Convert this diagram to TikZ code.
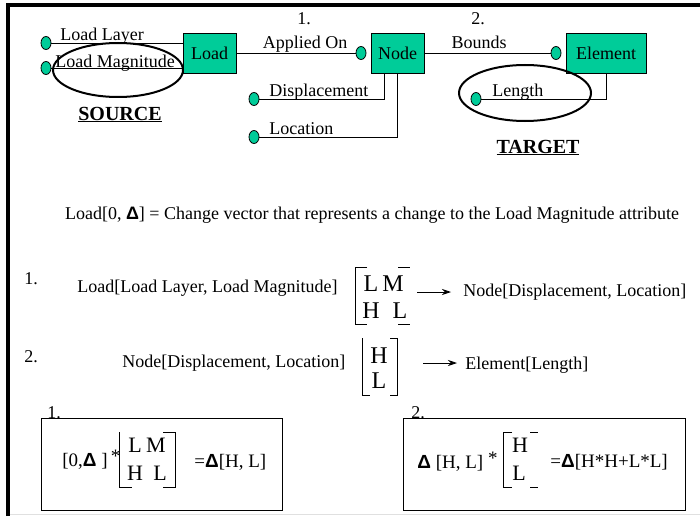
\documentclass[tikz,border=0pt]{standalone}
\usepackage{fontspec}
\setmainfont{Liberation Serif}
\newfontfamily\deltafont{Liberation Sans}
\usetikzlibrary{arrows.meta,shapes.geometric}
\definecolor{entityfill}{HTML}{00CC99}
\newcommand{\Dlt}{{\deltafont\bfseries Δ}}
\tikzset{
  entity/.style={draw, fill=entityfill, minimum height=40pt, inner sep=0pt, font=\fontsize{18}{20}\selectfont},
  attr dot/.style={ellipse, draw, fill=entityfill, minimum width=10pt, minimum height=13pt, inner sep=0pt},
  label text/.style={font=\fontsize{18}{20}\selectfont, inner sep=0pt},
  big text/.style={font=\fontsize{20}{22}\selectfont, inner sep=0pt},
  matrix entry/.style={font=\fontsize{24}{26}\selectfont, inner sep=0pt, text height=16pt, text depth=0pt},
  box entry/.style={font=\fontsize{19}{21}\selectfont, inner sep=0pt},
  box matrix entry/.style={font=\fontsize{22}{24}\selectfont, inner sep=0pt, text height=14.5pt, text depth=0pt},
  map arrow/.style={-{Stealth[length=9pt, width=6pt]}},
  ring/.style={line width=2pt},
  formula box/.style={draw},
}

\begin{document}
\begin{tikzpicture}[x=1pt, y=-1pt, line width=0.8pt]
  \useasboundingbox (0,0) rectangle (700,516);

  % Frame
  \draw[line width=4pt] (8,516) -- (8,5) -- (700,5);
  \draw[black!12] (10,514) -- (700,514);

  % Entities
  \node[entity, minimum width=53pt] (loadbox) at (209.5,53) {Load};
  \node[entity, minimum width=53pt] (nodebox) at (397.5,53) {Node};
  \node[entity, minimum width=80pt] (elembox) at (606,53) {Element};

  % Attribute dots
  \node[attr dot] (layerdot) at (46,43) {};
  \node[attr dot] (magdot) at (46,68) {};
  \node[attr dot] (appliedend) at (361,53) {};
  \node[attr dot] (dispdot) at (254,99) {};
  \node[attr dot] (locdot) at (254,137) {};
  \node[attr dot] (boundsend) at (556,53) {};
  \node[attr dot] (lendot) at (476,99) {};

  % Relations
  \draw (loadbox) -- (appliedend);
  \draw (nodebox) -- (boundsend);

  % Attribute links
  \coordinate (dispjoin) at (384,73);
  \draw (layerdot) -- (layerdot -| loadbox.west);
  \draw (magdot) -- (magdot -| loadbox.west);
  \draw (dispdot) -| (dispjoin);
  \draw (locdot) -| (nodebox.south);
  \draw (lendot) -| (elembox.south);

  % Labels
  \node[label text, anchor=base west] (layerlbl) at (60,41) {Load Layer};
  \node[label text, anchor=base west] (maglbl) at (55,68) {Load Magnitude};
  \node[label text, anchor=base] (appliedlbl) at (305,49) {Applied On};
  \node[label text, anchor=base] (rel1) at (304,25) {1.};
  \node[label text, anchor=base] (boundslbl) at (479,49) {Bounds};
  \node[label text, anchor=base] (rel2) at (478,25) {2.};
  \node[label text, anchor=base west] (displbl) at (269,96) {Displacement};
  \node[label text, anchor=base west] (loclbl) at (269,134) {Location};
  \node[label text, anchor=base west] (lenlbl) at (492,96) {Length};

  % Rings
  \draw[ring] (118,70) ellipse [x radius=65pt, y radius=27pt];
  \draw[ring] (525,93) ellipse [x radius=66pt, y radius=28pt];
  \node[big text, anchor=base] (source) at (120,120) {\underline{\textbf{SOURCE}}};
  \node[big text, anchor=base] (target) at (538,153) {\underline{\textbf{TARGET}}};

  % Change vector
  \node[label text] (changevec) at (372,215) {Load[0, \Dlt] = Change vector that represents a change to the Load Magnitude attribute};

  % Mapping 1
  \node[label text] (step1) at (31,279) {1.};
  \node[label text, anchor=west] (map1src) at (77,288) {Load[Load Layer, Load Magnitude]};
  \node[matrix entry] (m1a) at (371,283) {L};
  \node[matrix entry] (m1b) at (393,283) {M};
  \node[matrix entry] (m1c) at (371,310) {H};
  \node[matrix entry] (m1d) at (400,310) {L};
  \draw (367,267) -- (355,267) -- (355,324) -- (367,324);
  \draw (398,267) -- (410,267) (398,324) -- (410,324);
  \coordinate (arr1) at (417,292);
  \node[label text, anchor=west] (map1dst) at (463,292) {Node[Displacement, Location]};
  \draw[map arrow, shorten >=12pt] (arr1) -- (map1dst.west);

  % Mapping 2
  \node[label text] (step2) at (31,357) {2.};
  \node[label text, anchor=west] (map2src) at (122,363) {Node[Displacement, Location]};
  \node[matrix entry] (m2a) at (379,355) {H};
  \node[matrix entry] (m2b) at (379,380) {L};
  \draw (362,338) -- (362,395) -- (370,395);
  \draw (390,338) -- (397,338) -- (397,395) -- (390,395);
  \coordinate (arr2) at (423,363);
  \node[label text, anchor=west] (map2dst) at (465,365) {Element[Length]};
  \draw[map arrow, shorten >=8pt] (arr2) -- (map2dst.west |- arr2);

  % Product 1
  \node[formula box, minimum width=241pt, minimum height=92pt] (prod1) at (161.5,464) {};
  \node[label text, anchor=base] (prod1lbl) at (54,418) {1.};
  \node[box entry, anchor=west] (prod1lhs) at (62,460) {[0,\Dlt\ ]\,\raisebox{4pt}{*}};
  \node[box matrix entry] (p1a) at (135,445) {L};
  \node[box matrix entry] (p1b) at (156,445) {M};
  \node[box matrix entry] (p1c) at (135,473) {H};
  \node[box matrix entry] (p1d) at (160,473) {L};
  \draw (119,432) -- (119,487) -- (132,487);
  \draw (163,432) -- (175,432) -- (175,487) -- (163,487);
  \node[box entry, anchor=west] (prod1rhs) at (194,462) {=\Dlt[H, L]};

  % Product 2
  \node[formula box, minimum width=282pt, minimum height=92pt] (prod2) at (544,464) {};
  \node[label text, anchor=base] (prod2lbl) at (418,418) {2.};
  \node[box entry, anchor=west] (prod2lhs) at (417,462) {\Dlt\ [H, L] \raisebox{4pt}{*}};
  \node[box matrix entry] (p2a) at (520,445) {H};
  \node[box matrix entry] (p2b) at (519,473) {L};
  \draw (512,432) -- (503,432) -- (503,487) -- (512,487);
  \draw (530,432) -- (538,432) (530,487) -- (538,487);
  \node[box entry, anchor=west] (prod2rhs) at (550,462) {=\Dlt[H*H+L*L]};
\end{tikzpicture}
\end{document}
